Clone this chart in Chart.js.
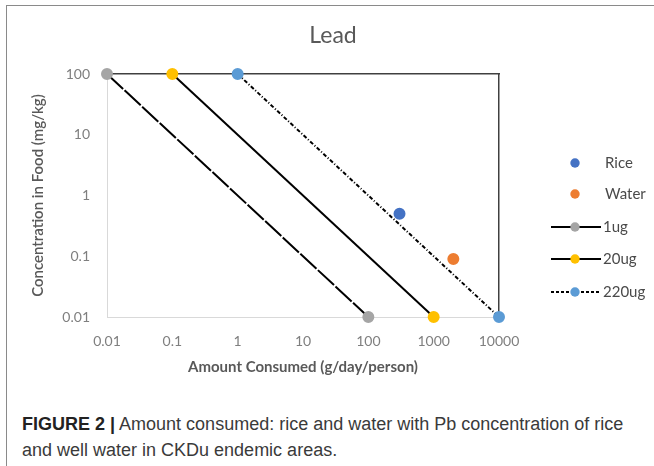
<!DOCTYPE html>
<html>
<head>
<meta charset="utf-8">
<script src="https://cdn.jsdelivr.net/npm/chart.js@4.4.1/dist/chart.umd.min.js"></script>
<style>
  html, body { margin: 0; padding: 0; background: #fff; }
  body { width: 654px; height: 466px; position: relative; overflow: hidden; }
  .frame { position: absolute; left: 6px; top: 5px; width: 660px; height: 470px;
           border-left: 1px solid #8a8a8a; border-top: 1px solid #8a8a8a; }
  #wrap { position: absolute; left: 0; top: 0; width: 654px; height: 390px; }
  .title { position: absolute; left: 273px; width: 120px; top: 20px; text-align: center;
           font: 23px Lato, sans-serif; color: #595959; }
  #legend { position: absolute; left: 550px; top: 0; font: 15px Lato, sans-serif; color: #4a4a4a; }
  #legend .item { position: absolute; left: 0; height: 20px; white-space: nowrap; }
  #legend svg { position: absolute; left: 0; top: 0; }
  #legend span { position: absolute; left: 55px; top: 0px; }
  .caption { position: absolute; left: 22px; top: 411px; width: 630px;
             font: 18px "Liberation Sans", Arial, sans-serif; color: #3a3a3a; line-height: 26px; }
  .caption b { color: #222; }
</style>
</head>
<body>
<div class="frame"></div>
<div id="wrap"><canvas id="myChart"></canvas></div>
<div class="title">Lead</div>
<div id="legend"></div>
<div class="caption"><b>FIGURE 2 |</b> Amount consumed: rice and water with Pb concentration of rice and well water in CKDu endemic areas.</div>
<script>
// values
const xTicks = [0.01, 0.1, 1, 10, 100, 1000, 10000];
const xTickLabels = ['0.01', '0.1', '1', '10', '100', '1000', '10000'];
const yTicks = [0.01, 0.1, 1, 10, 100];
const yTickLabels = ['0.01', '0.1', '1', '10', '100'];

const riceAmount = [300];
const riceConc = [0.5];
const waterAmount = [2000];
const waterConc = [0.09];

const amount1ug = [0.01, 100];
const conc1ug = [100, 0.01];
const amount20ug = [0.1, 1000];
const conc20ug = [100, 0.01];
const amount220ug = [1, 10000];
const conc220ug = [100, 0.01];

function pts(xs, ys) {
  return xs.map((x, i) => ({x: x, y: ys[i]}));
}

const datasets = [
  {label: 'Rice', data: pts(riceAmount, riceConc), showLine: false,
   pointBackgroundColor: '#4472C4', pointBorderColor: '#4472C4'},
  {label: 'Water', data: pts(waterAmount, waterConc), showLine: false,
   pointBackgroundColor: '#ED7D31', pointBorderColor: '#ED7D31'},
  {label: '1ug', data: pts(amount1ug, conc1ug), showLine: true, borderColor: '#000',
   borderDash: [22, 2], pointBackgroundColor: '#A5A5A5', pointBorderColor: '#A5A5A5'},
  {label: '20ug', data: pts(amount20ug, conc20ug), showLine: true, borderColor: '#000',
   borderDash: [], pointBackgroundColor: '#FFC000', pointBorderColor: '#FFC000'},
  {label: '220ug', data: pts(amount220ug, conc220ug), showLine: true, borderColor: '#000',
   borderDash: [4, 2, 1, 2], pointBackgroundColor: '#5B9BD5', pointBorderColor: '#5B9BD5'}
];
datasets.forEach(d => {
  d.borderWidth = 2;
  d.pointRadius = 5;
  d.pointHoverRadius = 5;
  d.clip = false;
});

const tickFont = {family: 'Lato', size: 14};
const ctx = document.getElementById('myChart');

new Chart(ctx, {
  type: 'scatter',
  data: {datasets: datasets},
  options: {
    responsive: true,
    maintainAspectRatio: false,
    animation: false,
    layout: {padding: {left: 25, right: 155, top: 74, bottom: 10}},
    plugins: {legend: {display: false}, title: {display: false}, tooltip: {enabled: false}},
    scales: {
      x: {
        type: 'logarithmic', min: 0.01, max: 10000, position: 'bottom',
        afterBuildTicks: s => { s.ticks = xTicks.map(v => ({value: v})); },
        afterFit: s => { s.height = 63; },
        grid: {display: false, drawTicks: false},
        border: {color: '#d9d9d9', width: 1},
        ticks: {autoSkip: false, maxRotation: 0, padding: 16, color: '#7f7f7f', font: tickFont,
                callback: v => xTickLabels[xTicks.indexOf(v)]},
        title: {display: true, text: 'Amount Consumed (g/day/person)', color: '#595959',
                font: {family: 'Lato', size: 15, weight: 'bold'}, padding: {top: 0, bottom: 4}}
      },
      y: {
        type: 'logarithmic', min: 0.01, max: 100, position: 'left',
        afterBuildTicks: s => { s.ticks = yTicks.map(v => ({value: v})); },
        afterFit: s => { s.width = 82; },
        grid: {display: false, drawTicks: false},
        border: {color: '#d9d9d9', width: 1},
        ticks: {autoSkip: false, padding: 17, color: '#7f7f7f', font: tickFont,
                callback: v => yTickLabels[yTicks.indexOf(v)]},
        title: {display: true, text: 'Concentration in Food (mg/kg)', color: '#595959',
                font: {family: 'Lato', size: 15, weight: '600'}, padding: {top: 4, bottom: 0}}
      },
      x2: {
        type: 'linear', min: 0, max: 1, position: 'top', display: true,
        afterFit: s => { s.height = 0; },
        grid: {display: false, drawTicks: false},
        border: {color: '#404040', width: 1.5},
        ticks: {display: false}
      },
      y2: {
        type: 'linear', min: 0, max: 1, position: 'right', display: true,
        afterFit: s => { s.width = 0; },
        grid: {display: false, drawTicks: false},
        border: {color: '#404040', width: 1.5},
        ticks: {display: false}
      }
    }
  }
});

// legend built from the datasets
const legendRows = [163, 194, 227, 259, 292];
const legend = document.getElementById('legend');
datasets.forEach((d, i) => {
  const item = document.createElement('div');
  item.className = 'item';
  item.style.top = (legendRows[i] - 10) + 'px';
  let svg = '<svg width="54" height="20">';
  if (d.showLine) {
    const dash = d.label === '220ug' ? ' stroke-dasharray="3,2"' : '';
    svg += '<line x1="1" y1="10" x2="51" y2="10" stroke="#000" stroke-width="2"' + dash + '/>';
  }
  svg += '<circle cx="25" cy="10" r="4.7" fill="' + d.pointBackgroundColor + '"/></svg>';
  item.innerHTML = svg + '<span style="left:' + (d.showLine ? 53 : 55) + 'px">' + d.label + '</span>';
  legend.appendChild(item);
});
</script>
</body>
</html>
